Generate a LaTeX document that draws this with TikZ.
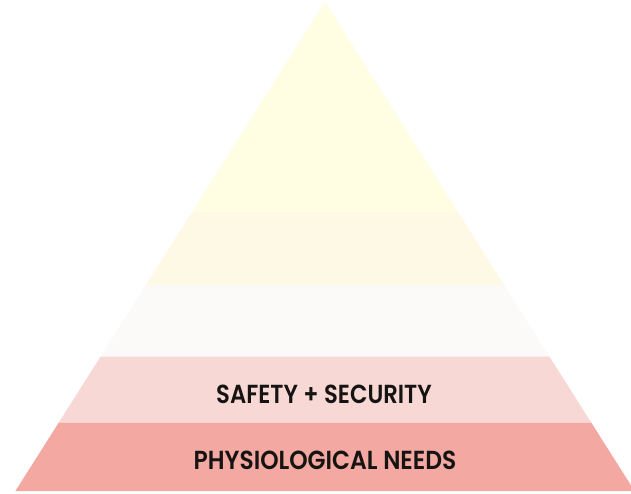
\documentclass[tikz,border=0pt]{standalone}
\usepackage{fontspec}
\newfontfamily\labelfont{Poppins SemiBold}
\definecolor{layerA}{HTML}{FFFEE3}
\definecolor{layerB}{HTML}{FEF9E4}
\definecolor{layerC}{HTML}{FBFAF9}
\definecolor{layerD}{HTML}{F8D8D5}
\definecolor{layerE}{HTML}{F4A8A2}
\definecolor{labelink}{HTML}{161413}
\newcommand{\tallcaps}[1]{\scalebox{1}[1.15]{#1}}
\tikzset{
  layer/.style={draw=none},
  lvlabel/.style={font=\labelfont\fontsize{22.8}{26}\selectfont, text=labelink, inner sep=0pt, anchor=center}
}
\begin{document}
\begin{tikzpicture}[x=1bp,y=-1bp]
\useasboundingbox (0,0) rectangle (631,494);
\fill[white] (0,0) rectangle (631,494);
% apex (325,2); half width = 0.633*(y-2)
\fill[layerA] (325,2) -- (457.7,211.7) -- (192.3,211.7) -- cycle;
\fill[layerB] (192.3,211.7) -- (457.7,211.7) -- (504.1,285) -- (145.9,285) -- cycle;
\fill[layerC] (145.9,285) -- (504.1,285) -- (549.5,356.7) -- (100.5,356.7) -- cycle;
\fill[layerD] (100.5,356.7) -- (549.5,356.7) -- (591.3,422.7) -- (58.7,422.7) -- cycle;
\fill[layerE] (58.7,422.7) -- (591.3,422.7) -- (634.6,491) -- (15.4,491) -- cycle;
\node[lvlabel] (safety) at (324,394.5) {\tallcaps{SAFETY + SECURITY}};
\node[lvlabel] (physio) at (325,460.5) {\scalebox{1.03}[1.15]{PHYSIOLOGICAL NEEDS}};
\end{tikzpicture}
\end{document}
